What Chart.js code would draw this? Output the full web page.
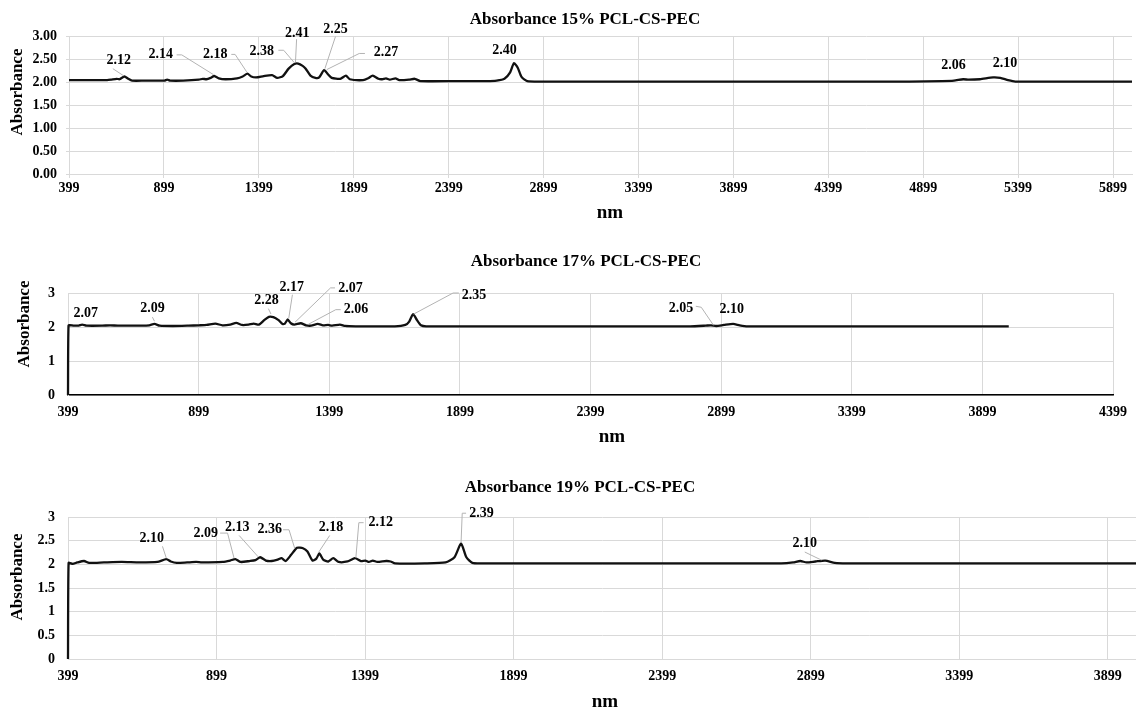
<!DOCTYPE html>
<html>
<head>
<meta charset="utf-8">
<title>Absorbance PCL-CS-PEC</title>
<script src="https://cdn.jsdelivr.net/npm/chart.js@4.4.1/dist/chart.umd.min.js"></script>
<style>
  html, body { margin: 0; padding: 0; background: #fff; }
  body { width: 1136px; height: 712px; position: relative; overflow: hidden; }
  canvas { position: absolute; left: 0; }
</style>
</head>
<body>
<canvas id="chart15" width="1136" height="230" style="top:0px"></canvas>
<canvas id="chart17" width="1136" height="222" style="top:240px"></canvas>
<canvas id="chart19" width="1136" height="250" style="top:462px"></canvas>
<script>
// ---- 15% PCL-CS-PEC ----
const nm15 = [399, 450, 520, 600, 620, 650, 665, 691, 711, 731, 800, 902, 916, 932, 1000, 1083, 1103, 1123,
  1145, 1164, 1188, 1224, 1284, 1314, 1339, 1359, 1385, 1425, 1469, 1496, 1526, 1556, 1586, 1606, 1630,
  1646, 1671, 1697, 1717, 1743, 1763, 1783, 1828, 1858, 1878, 1948, 1975, 1999, 2029, 2049, 2069, 2089,
  2119, 2139, 2190, 2220, 2250, 2451, 2600, 2652, 2693, 2723, 2743, 2763, 2783, 2813, 2894, 3200, 4000,
  4826, 5000, 5061, 5110, 5139, 5198, 5267, 5305, 5346, 5384, 5999];
const abs15 = [2.04, 2.04, 2.04, 2.04, 2.05, 2.07, 2.06, 2.12, 2.07, 2.03, 2.03, 2.03, 2.05, 2.03, 2.03, 2.05, 2.07, 2.06,
  2.09, 2.13, 2.08, 2.06, 2.08, 2.12, 2.18, 2.12, 2.10, 2.13, 2.15, 2.09, 2.13, 2.29, 2.39, 2.40, 2.35,
  2.29, 2.14, 2.09, 2.10, 2.26, 2.17, 2.09, 2.07, 2.14, 2.06, 2.04, 2.08, 2.14, 2.07, 2.06, 2.08, 2.05,
  2.08, 2.04, 2.05, 2.07, 2.02, 2.02, 2.02, 2.03, 2.07, 2.21, 2.41, 2.31, 2.11, 2.02, 2.01, 2.01, 2.01,
  2.01, 2.02, 2.03, 2.06, 2.05, 2.06, 2.10, 2.09, 2.04, 2.01, 2.01];
const xTicks15 = [399, 899, 1399, 1899, 2399, 2899, 3399, 3899, 4399, 4899, 5399, 5899];
const peakText15 = ['2.12', '2.14', '2.18', '2.38', '2.41', '2.25', '2.27', '2.40', '2.06', '2.10'];
const peakAt15 = [[661, 2.48], [882, 2.59], [1170, 2.60], [1415, 2.67], [1602, 3.05], [1803, 3.15],
  [2069, 2.64], [2693, 2.69], [5059, 2.37], [5330, 2.41]];
const peakLead15 = [
  [[630, 2.29], [685, 2.14]],
  [[966, 2.59], [993, 2.59], [1160, 2.16]],
  [[1254, 2.60], [1274, 2.60], [1335, 2.22]],
  [[1502, 2.69], [1530, 2.69], [1586, 2.42]],
  [[1598, 2.93], [1592, 2.43]],
  [[1803, 2.99], [1747, 2.29]],
  [[1958, 2.62], [1928, 2.62], [1757, 2.27]],
  [], [], []
];

// ---- 17% PCL-CS-PEC ----
const nm17 = [399, 401, 420, 440, 453, 470, 530, 560, 590, 680, 710, 730, 750, 800, 860, 900, 930, 963, 990,
  1020, 1043, 1065, 1090, 1110, 1130, 1150, 1168, 1185, 1205, 1220, 1230, 1240, 1252, 1265, 1290, 1310,
  1330, 1355, 1375, 1395, 1410, 1440, 1460, 1500, 1650, 1690, 1705, 1720, 1735, 1750, 1770, 2000, 2500,
  2780, 2840, 2860, 2880, 2910, 2945, 2970, 3000, 3100, 3500, 4000];
const abs17 = [0, 2.04, 2.04, 2.04, 2.07, 2.04, 2.04, 2.05, 2.04, 2.04, 2.05, 2.09, 2.04, 2.03, 2.04, 2.05, 2.06, 2.10, 2.05,
  2.07, 2.12, 2.06, 2.07, 2.10, 2.07, 2.20, 2.30, 2.29, 2.20, 2.09, 2.11, 2.22, 2.11, 2.07, 2.11, 2.05,
  2.04, 2.09, 2.05, 2.06, 2.04, 2.07, 2.03, 2.02, 2.02, 2.06, 2.16, 2.38, 2.20, 2.05, 2.02, 2.02, 2.02,
  2.02, 2.04, 2.05, 2.03, 2.06, 2.09, 2.05, 2.02, 2.02, 2.02, 2.02];
const xTicks17 = [399, 899, 1399, 1899, 2399, 2899, 3399, 3899, 4399];
const peakText17 = ['2.07', '2.09', '2.28', '2.17', '2.07', '2.06', '2.35', '2.05', '2.10'];
const peakAt17 = [[467, 2.39], [722, 2.54], [1159, 2.77], [1255, 3.17], [1480, 3.15], [1501, 2.51],
  [1953, 2.92], [2745, 2.56], [2940, 2.51]];
const peakLead17 = [
  [],
  [[722, 2.29], [730, 2.17]],
  [[1166, 2.54], [1176, 2.38]],
  [[1258, 2.95], [1244, 2.26]],
  [[1421, 3.15], [1404, 3.15], [1268, 2.14]],
  [[1443, 2.51], [1424, 2.51], [1319, 2.08]],
  [[1895, 3.00], [1873, 3.00], [1722, 2.38]],
  [[2802, 2.61], [2823, 2.58], [2870, 2.05]],
  []
];

// ---- 19% PCL-CS-PEC ----
const nm19 = [399, 401, 415, 430, 453, 470, 520, 580, 640, 700, 730, 745, 765, 800, 830, 850, 920, 945, 962,
  980, 1010, 1030, 1046, 1065, 1085, 1105, 1118, 1132, 1150, 1170, 1190, 1205, 1222, 1235, 1245, 1258,
  1275, 1292, 1310, 1340, 1365, 1385, 1400, 1412, 1425, 1440, 1470, 1485, 1500, 1600, 1670, 1700, 1722,
  1740, 1760, 1800, 2400, 2800, 2840, 2864, 2885, 2915, 2948, 2980, 3020, 3994];
const abs19 = [0, 2.03, 2.01, 2.04, 2.07, 2.03, 2.04, 2.05, 2.04, 2.05, 2.11, 2.06, 2.03, 2.04, 2.05, 2.04, 2.05, 2.08, 2.11,
  2.05, 2.07, 2.09, 2.15, 2.08, 2.07, 2.10, 2.13, 2.07, 2.20, 2.35, 2.34, 2.27, 2.08, 2.12, 2.23, 2.10,
  2.06, 2.13, 2.05, 2.06, 2.13, 2.07, 2.08, 2.05, 2.08, 2.05, 2.07, 2.06, 2.02, 2.02, 2.04, 2.15, 2.44,
  2.15, 2.03, 2.02, 2.02, 2.02, 2.04, 2.07, 2.04, 2.06, 2.08, 2.03, 2.02, 2.02];
const xTicks19 = [399, 899, 1399, 1899, 2399, 2899, 3399, 3899];
const peakText19 = ['2.10', '2.09', '2.13', '2.36', '2.18', '2.12', '2.39', '2.10'];
const peakAt19 = [[681, 2.54], [863, 2.65], [969, 2.79], [1078, 2.73], [1284, 2.79], [1452, 2.88],
  [1791, 3.08], [2879, 2.45]];
const peakLead19 = [
  [[717, 2.38], [730, 2.13]],
  [[911, 2.66], [936, 2.66], [958, 2.13]],
  [[975, 2.61], [1039, 2.16]],
  [[1123, 2.73], [1143, 2.73], [1162, 2.34]],
  [[1280, 2.61], [1241, 2.24]],
  [[1394, 2.88], [1378, 2.88], [1368, 2.14]],
  [[1739, 3.08], [1726, 3.08], [1722, 2.45]],
  [[2879, 2.26], [2935, 2.09]]
];

const SERIF = "'Liberation Serif', 'Times New Roman', serif";
Chart.defaults.font.family = SERIF;
Chart.defaults.font.weight = 'bold';
Chart.defaults.color = '#000';

// peak value labels with grey leader lines, placed in data units
const calloutPlugin = {
  id: 'callouts',
  afterDatasetsDraw(chart, args, opts) {
    const { ctx, scales: { x, y } } = chart;
    ctx.save();
    ctx.strokeStyle = '#b3b3b3';
    ctx.lineWidth = 1;
    ctx.fillStyle = '#000';
    ctx.font = 'bold 14px ' + SERIF;
    ctx.textAlign = 'center';
    ctx.textBaseline = 'middle';
    opts.text.forEach((t, i) => {
      const lead = opts.lead[i];
      if (lead.length) {
        ctx.beginPath();
        lead.forEach(([n, a], j) => {
          const px = x.getPixelForValue(n), py = y.getPixelForValue(a);
          if (j) ctx.lineTo(px, py); else ctx.moveTo(px, py);
        });
        ctx.stroke();
      }
      ctx.fillText(t, x.getPixelForValue(opts.at[i][0]), y.getPixelForValue(opts.at[i][1]));
    });
    ctx.restore();
  }
};

// chart title and axis titles
const framePlugin = {
  id: 'frameText',
  afterDraw(chart, args, o) {
    const { ctx } = chart;
    ctx.save();
    ctx.fillStyle = '#000';
    ctx.textAlign = 'center';
    ctx.textBaseline = 'middle';
    ctx.font = 'bold 17px ' + SERIF;
    ctx.fillText(o.title, o.title_at[0], o.title_at[1]);
    ctx.font = 'bold 19px ' + SERIF;
    ctx.fillText('nm', o.nm_at[0], o.nm_at[1]);
    ctx.font = 'bold 17px ' + SERIF;
    ctx.translate(o.y_at[0], o.y_at[1]);
    ctx.rotate(-Math.PI / 2);
    ctx.fillText('Absorbance', 0, 0);
    ctx.restore();
  }
};

function spectrum(id, s) {
  return new Chart(document.getElementById(id), {
    type: 'line',
    data: {
      datasets: [{
        data: s.nm.map((v, i) => ({ x: v, y: s.abs[i] })),
        borderColor: '#111',
        borderWidth: 2.3,
        pointRadius: 0,
        tension: 0.2,
        clip: false
      }]
    },
    plugins: [calloutPlugin, framePlugin],
    options: {
      responsive: false,
      animation: false,
      layout: { padding: { top: s.top, right: s.right, left: 0, bottom: 0 } },
      plugins: {
        legend: { display: false },
        tooltip: { enabled: false },
        callouts: { text: s.text, at: s.at, lead: s.lead },
        frameText: s.frame
      },
      scales: {
        x: {
          type: 'linear',
          min: 399,
          max: s.max,
          afterBuildTicks: sc => { sc.ticks = s.ticks.map(v => ({ value: v })); },
          afterFit: sc => { sc.height = s.xh; },
          grid: { color: '#d9d9d9', drawTicks: s.xTick > 0, tickLength: s.xTick, tickColor: '#d9d9d9' },
          border: { color: s.xBorder, width: s.xBorderW },
          ticks: {
            autoSkip: false, maxRotation: 0, padding: s.xPad,
            font: { size: 14, weight: 'bold' },
            callback: v => String(v)
          }
        },
        y: {
          min: 0,
          max: 3,
          afterFit: sc => { sc.width = s.left; },
          grid: { color: '#d9d9d9', drawTicks: s.yTick > 0, tickLength: s.yTick, tickColor: '#d9d9d9' },
          border: { color: '#d9d9d9' },
          ticks: {
            stepSize: 0.5, padding: s.yPad,
            font: { size: 14, weight: 'bold' },
            callback: v => s.fixed ? v.toFixed(2) : String(v)
          }
        }
      }
    }
  });
}

spectrum('chart15', {
  nm: nm15, abs: abs15, ticks: xTicks15, max: 5999,
  text: peakText15, at: peakAt15, lead: peakLead15,
  top: 36, right: 4, left: 69, xh: 56, xTick: 4, xPad: 2, yTick: 3, yPad: 9, fixed: true,
  xBorder: '#d9d9d9', xBorderW: 1,
  frame: { title: 'Absorbance 15% PCL-CS-PEC', title_at: [585, 20], nm_at: [610, 213], y_at: [18, 92] }
});

spectrum('chart17', {
  nm: nm17, abs: abs17, ticks: xTicks17, max: 4399,
  text: peakText17, at: peakAt17, lead: peakLead17,
  top: 53, right: 17, left: 68, xh: 67, xTick: 0, xPad: 9, yTick: 0, yPad: 13, fixed: false,
  xBorder: '#000', xBorderW: 1.5,
  frame: { title: 'Absorbance 17% PCL-CS-PEC', title_at: [586, 22], nm_at: [612, 197], y_at: [25, 84] }
});

spectrum('chart19', {
  nm: nm19, abs: abs19, ticks: xTicks19, max: 3994,
  text: peakText19, at: peakAt19, lead: peakLead19,
  top: 55, right: 0, left: 68, xh: 53, xTick: 0, xPad: 9, yTick: 0, yPad: 13, fixed: false,
  xBorder: '#d9d9d9', xBorderW: 1,
  frame: { title: 'Absorbance 19% PCL-CS-PEC', title_at: [580, 26], nm_at: [605, 240], y_at: [18, 115] }
});
</script>
</body>
</html>
